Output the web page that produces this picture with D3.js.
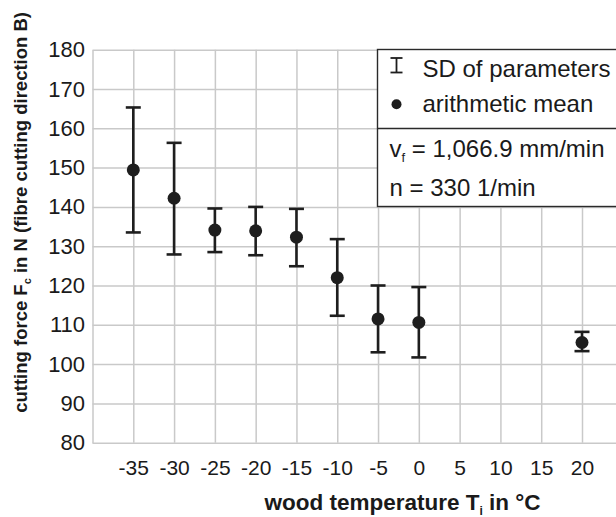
<!DOCTYPE html>
<html>
<head>
<meta charset="utf-8">
<script src="https://cdn.jsdelivr.net/npm/d3@7"></script>
<style>
  body { margin: 0; background: #fff; }
  svg { display: block; font-family: "Liberation Sans", Arial, sans-serif; }
</style>
</head>
<body>
<svg width="616" height="517"></svg>
<script>
// data
const temps = [-35, -30, -25, -20, -15, -10, -5, 0, 20];
const means = [149.4, 142.2, 134.1, 133.9, 132.3, 122.0, 111.5, 110.6, 105.5];
const upper = [165.3, 156.3, 139.6, 140.0, 139.5, 131.8, 120.0, 119.6, 108.2];
const lower = [133.5, 127.9, 128.5, 127.7, 124.9, 112.3, 103.0, 101.7, 103.3];
const xTicks = [-35, -30, -25, -20, -15, -10, -5, 0, 5, 10, 15, 20];
const yTicks = [80, 90, 100, 110, 120, 130, 140, 150, 160, 170, 180];

const svg = d3.select('svg');
const width = +svg.attr('width');
const height = +svg.attr('height');

const margin = { top: 49.7, right: 0, bottom: 74.3, left: 92.5 };
const innerWidth = width - margin.left - margin.right;
const innerHeight = height - margin.top - margin.bottom;

const data = temps.map((t, i) => ({ t, m: means[i], hi: upper[i], lo: lower[i] }));

const xScale = d3.scaleLinear()
  .domain([-40, 20])
  .range([0, 489.5]);

const yScale = d3.scaleLinear()
  .domain([80, 180])
  .range([innerHeight, 0]);

const g = svg.append('g')
  .attr('transform', `translate(${margin.left},${margin.top})`);

const gridColor = '#c9c9c9';

const yAxisG = g.append('g').call(
  d3.axisLeft(yScale)
    .tickValues(yTicks)
    .tickSize(-innerWidth)
    .tickSizeOuter(0)
    .tickPadding(7.5)
);

const xAxisG = g.append('g')
  .attr('transform', `translate(0,${innerHeight})`)
  .call(
    d3.axisBottom(xScale)
      .tickValues(xTicks)
      .tickFormat(d => String(d))
      .tickSize(-innerHeight)
      .tickPadding(17)
  );
xAxisG.select('.domain').remove();

[yAxisG, xAxisG].forEach(a => {
  a.selectAll('line').attr('stroke', gridColor).attr('stroke-width', 1.5);
  a.selectAll('.domain').attr('stroke', gridColor).attr('stroke-width', 1.5);
  a.selectAll('text')
    .attr('fill', '#1a1a1a')
    .style('font-family', '"Liberation Sans", Arial, sans-serif');
});
yAxisG.selectAll('text').style('font-size', '22px');
xAxisG.selectAll('text').style('font-size', '21px');

// error bars
const capW = 7.5;
const bars = g.selectAll('.bar').data(data).enter().append('g')
  .attr('class', 'bar')
  .attr('stroke', '#1e1e1e')
  .attr('stroke-width', 2.6);

bars.append('line')
  .attr('x1', d => xScale(d.t)).attr('x2', d => xScale(d.t))
  .attr('y1', d => yScale(d.hi)).attr('y2', d => yScale(d.lo));
bars.append('line')
  .attr('x1', d => xScale(d.t) - capW).attr('x2', d => xScale(d.t) + capW)
  .attr('y1', d => yScale(d.hi)).attr('y2', d => yScale(d.hi));
bars.append('line')
  .attr('x1', d => xScale(d.t) - capW).attr('x2', d => xScale(d.t) + capW)
  .attr('y1', d => yScale(d.lo)).attr('y2', d => yScale(d.lo));

g.selectAll('.dot').data(data).enter().append('circle')
  .attr('class', 'dot')
  .attr('cx', d => xScale(d.t))
  .attr('cy', d => yScale(d.m))
  .attr('r', 6.5)
  .attr('fill', '#1e1e1e');

// legend box
const leg = svg.append('g');
leg.append('rect')
  .attr('x', 377.5).attr('y', 49.5)
  .attr('width', 250).attr('height', 157)
  .attr('fill', '#fff')
  .attr('stroke', '#2a2a2a')
  .attr('stroke-width', 1.4);
leg.append('line')
  .attr('x1', 377.5).attr('x2', 616)
  .attr('y1', 128.5).attr('y2', 128.5)
  .attr('stroke', '#2a2a2a').attr('stroke-width', 1.4);

const ib = leg.append('g').attr('stroke', '#1e1e1e').attr('stroke-width', 1.8);
ib.append('line').attr('x1', 396.5).attr('x2', 396.5).attr('y1', 58).attr('y2', 72.5);
ib.append('line').attr('x1', 390.5).attr('x2', 402.5).attr('y1', 58).attr('y2', 58);
ib.append('line').attr('x1', 390.5).attr('x2', 402.5).attr('y1', 72.5).attr('y2', 72.5);
leg.append('circle').attr('cx', 396.5).attr('cy', 104.3).attr('r', 5).attr('fill', '#1e1e1e');

const legText = (x, y) => leg.append('text')
  .attr('x', x).attr('y', y)
  .attr('fill', '#1a1a1a')
  .style('font-size', '24px');

legText(422.5, 77.3).text('SD of parameters');
legText(422.5, 111.7).text('arithmetic mean');
const vf = legText(389.5, 157);
vf.append('tspan').text('v');
vf.append('tspan').attr('dy', 5).style('font-size', '13px').text('f');
vf.append('tspan').attr('dy', -5).text(' = 1,066.9 mm/min');
legText(389.5, 196).text('n = 330 1/min');

// axis titles
const xt = svg.append('text')
  .attr('x', 402.5).attr('y', 510)
  .attr('text-anchor', 'middle')
  .attr('fill', '#1a1a1a')
  .style('font-size', '22.5px')
  .style('font-weight', 'bold');
xt.append('tspan').text('wood temperature T');
xt.append('tspan').attr('dy', 5).style('font-size', '12px').text('i');
xt.append('tspan').attr('dy', -5).text(' in °C');

const yt = svg.append('text')
  .attr('transform', 'translate(27,12) rotate(-90)')
  .attr('text-anchor', 'end')
  .attr('fill', '#1a1a1a')
  .style('font-size', '18.5px')
  .style('font-weight', 'bold');
yt.append('tspan').text('cutting force F');
yt.append('tspan').attr('dy', 4).style('font-size', '11px').text('c');
yt.append('tspan').attr('dy', -4).text(' in N (fibre cutting direction B)');
</script>
</body>
</html>
